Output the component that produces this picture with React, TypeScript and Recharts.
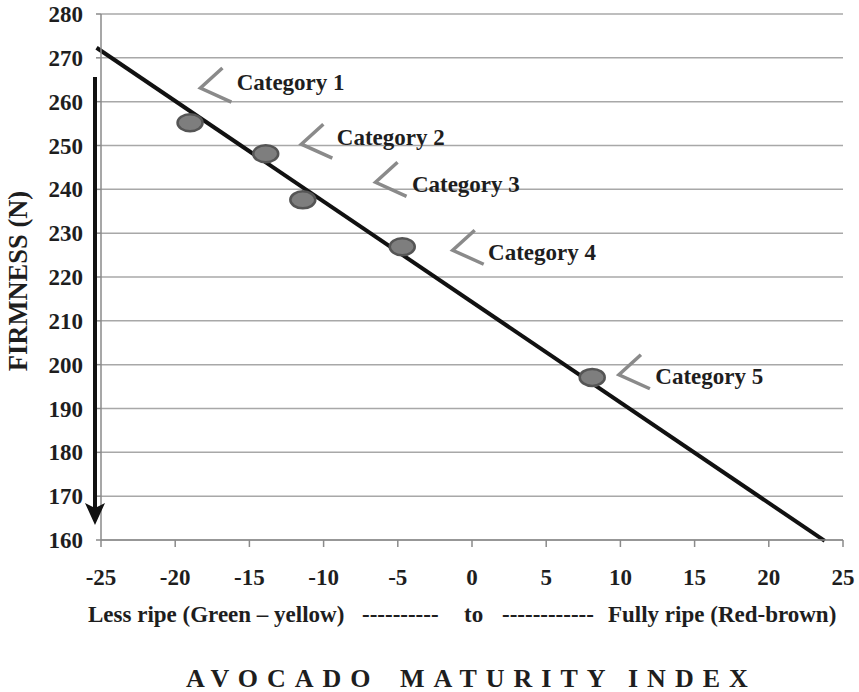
import React from "react";
import {
  ScatterChart,
  Scatter,
  XAxis,
  YAxis,
  CartesianGrid,
  ReferenceLine,
} from "recharts";

const categories = ["Category 1", "Category 2", "Category 3", "Category 4", "Category 5"];
const maturityIndex = [-19.0, -13.9, -11.4, -4.7, 8.1];
const firmness = [255.2, 248.1, 237.6, 226.9, 197.1];

// chevron tip positions (data units)
const chevronX = [-18.3, -11.5, -6.5, -1.3, 9.9];
const chevronY = [263.1, 250.3, 241.6, 226.1, 197.7];
// label text start positions (data units)
const labelX = [-15.86, -9.11, -4.05, 1.08, 12.35];
const labelY = [264.3, 251.9, 241.2, 225.5, 197.2];

// trend line endpoints
const trendX = [-25.3, 23.77];
const trendY = [272.3, 159.8];

const xTicks = [-25, -20, -15, -10, -5, 0, 5, 10, 15, 20, 25];
const yTicks = [160, 170, 180, 190, 200, 210, 220, 230, 240, 250, 260, 270, 280];

const pointData = categories.map((c, i) => ({ name: c, x: maturityIndex[i], y: firmness[i] }));
const chevronData = categories.map((c, i) => ({ name: c, x: chevronX[i], y: chevronY[i] }));
const labelData = categories.map((c, i) => ({ name: c, x: labelX[i], y: labelY[i] }));

const FONT = "'Liberation Serif', 'Times New Roman', serif";
const tickStyle = { fontFamily: FONT, fontWeight: "bold" as const, fontSize: 23, fill: "#1e1e1e" };

const EllipseShape = (props: any) => {
  const { cx, cy } = props;
  if (cx == null || cy == null) return null;
  return <ellipse cx={cx} cy={cy} rx={12.5} ry={8.5} fill="#7e7e7e" stroke="#555" strokeWidth={2.5} />;
};

const ChevronShape = (props: any) => {
  const { cx, cy } = props;
  if (cx == null || cy == null) return null;
  return (
    <path
      d={`M${cx + 22},${cy - 20} L${cx},${cy} L${cx + 31},${cy + 14}`}
      fill="none"
      stroke="#8a8a8a"
      strokeWidth={3.5}
    />
  );
};

const LabelShape = (props: any) => {
  const { cx, cy, payload } = props;
  if (cx == null || cy == null) return null;
  return (
    <text
      x={cx}
      y={cy}
      dominantBaseline="central"
      fontFamily={FONT}
      fontWeight="bold"
      fontSize={23}
      fill="#1e1e1e"
    >
      {payload.name}
    </text>
  );
};

export default function App() {
  return (
    <div style={{ position: "absolute", left: 0, top: 0, width: 859, height: 692, background: "#fff" }}>
      <ScatterChart width={859} height={692} margin={{ top: 14, right: 16, left: 41, bottom: 112 }}>
        <CartesianGrid horizontal={true} vertical={false} stroke="#a8a8a8" strokeWidth={1.5} />
        <XAxis
          type="number"
          dataKey="x"
          domain={[-25, 25]}
          ticks={xTicks}
          allowDataOverflow
          height={40}
          tick={tickStyle}
          tickSize={7}
          tickMargin={22}
          stroke="#8a8a8a"
          strokeWidth={1.5}
        />
        <YAxis
          type="number"
          dataKey="y"
          domain={[160, 280]}
          ticks={yTicks}
          allowDataOverflow
          width={60}
          tick={tickStyle}
          tickSize={5}
          tickMargin={13}
          stroke="#8a8a8a"
          strokeWidth={1.5}
        />
        <ReferenceLine
          segment={[
            { x: trendX[0], y: trendY[0] },
            { x: trendX[1], y: trendY[1] },
          ]}
          stroke="#111"
          strokeWidth={4}
          ifOverflow="visible"
        />
        <Scatter data={pointData} shape={EllipseShape} isAnimationActive={false} />
        <Scatter data={chevronData} shape={ChevronShape} isAnimationActive={false} />
        <Scatter data={labelData} shape={LabelShape} isAnimationActive={false} />
      </ScatterChart>
      <svg
        width={859}
        height={692}
        style={{ position: "absolute", left: 0, top: 0, pointerEvents: "none" }}
      >
        <line x1={95} y1={77} x2={95} y2={508} stroke="#111" strokeWidth={4} />
        <path d="M85,503 L95,508 L105,503 L95,525 Z" fill="#111" />
        <text
          transform="translate(18,281) rotate(-90)"
          textAnchor="middle"
          dominantBaseline="central"
          fontFamily={FONT}
          fontWeight="bold"
          fontSize={26.5}
          fill="#1e1e1e"
        >
          FIRMNESS (N)
        </text>
        <g fontFamily={FONT} fontWeight="bold" fontSize={23} fill="#1e1e1e">
          <text x={88} y={622}>Less ripe (Green – yellow)</text>
          <text x={362} y={622}>----------</text>
          <text x={464} y={622}>to</text>
          <text x={502} y={622}>------------</text>
          <text x={608} y={622}>Fully ripe (Red-brown)</text>
        </g>
        <g fontFamily={FONT} fontWeight="bold" fontSize={26} fill="#1e1e1e" letterSpacing={9}>
          <text x={186} y={687}>AVOCADO</text>
          <text x={400} y={687}>MATURITY</text>
          <text x={628} y={687}>INDEX</text>
        </g>
      </svg>
    </div>
  );
}
